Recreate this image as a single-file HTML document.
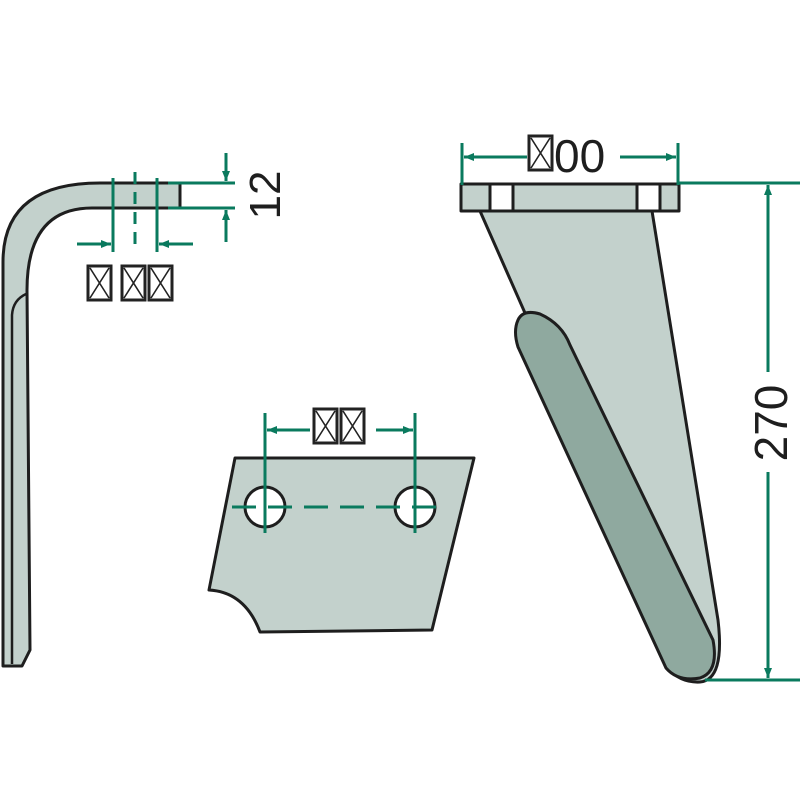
<!DOCTYPE html>
<html><head><meta charset="utf-8"><style>body{margin:0;background:#fff}svg{display:block}</style></head><body>
<svg width="800" height="800" viewBox="0 0 800 800" xmlns="http://www.w3.org/2000/svg">
<defs>
<marker id="a" markerWidth="10" markerHeight="8" refX="10" refY="4" orient="auto" markerUnits="userSpaceOnUse"><path d="M0,0 L10,4 L0,8z" fill="#0a7a5e"/></marker>
<g id="bx"><rect x="0" y="0" width="23" height="34" fill="none" stroke="#222" stroke-width="3"/><path d="M2,2 L21,32 M21,2 L2,32" stroke="#222" stroke-width="1.6"/></g>
</defs>
<g stroke="#1e1e1e" stroke-width="3" stroke-linejoin="round">
<path d="M3,666 L3,262 Q3,183 100,183 L180,183 L180,208 L92,208 Q27,208 27,290 L30,650 L22,666 Z" fill="#c3d1cc"/>
<path d="M12,664 L12,315 Q13,300 26,294" fill="none" stroke-width="2.5"/>
<path d="M235,458 L474,458 L432,630 L260,632 Q245,592 209,590 Z" fill="#c3d1cc"/>
<circle cx="265" cy="507" r="20" fill="#fff"/><circle cx="415" cy="507" r="20" fill="#fff"/>
<path d="M480,211 L652,211 L718,620 Q725,680 700,682 Q680,683 668,668 L525,313 Z" fill="#c3d1cc"/>
<path d="M518,320 Q523,309 540,314 Q562,324 570,345 L713,640 Q719,672 700,678 Q678,682 666,668 L518,347 Q513,331 518,320 Z" fill="#8fa99f"/>
<rect x="461" y="184" width="218" height="27" fill="#c3d1cc"/>
<rect x="490" y="184" width="23" height="27" fill="#fff"/><rect x="637" y="184" width="23" height="27" fill="#fff"/>
</g>
<g stroke="#0a7a5e" stroke-width="3" fill="none">
<line x1="168" y1="183" x2="235" y2="183"/><line x1="168" y1="208" x2="235" y2="208"/>
<line x1="226" y1="153" x2="226" y2="181" marker-end="url(#a)"/><line x1="226" y1="242" x2="226" y2="210" marker-end="url(#a)"/>
<line x1="113" y1="178" x2="113" y2="252"/><line x1="157" y1="178" x2="157" y2="252"/>
<line x1="135" y1="172" x2="135" y2="245" stroke-dasharray="12,8"/>
<line x1="77" y1="244" x2="111" y2="244" marker-end="url(#a)"/><line x1="193" y1="244" x2="159" y2="244" marker-end="url(#a)"/>
<line x1="265" y1="413" x2="265" y2="533"/><line x1="415" y1="413" x2="415" y2="533"/>
<line x1="310" y1="430" x2="267" y2="430" marker-end="url(#a)"/><line x1="376" y1="430" x2="413" y2="430" marker-end="url(#a)"/>
<line x1="232" y1="507" x2="448" y2="507" stroke-dasharray="24,12"/>
<line x1="462" y1="143" x2="462" y2="185"/><line x1="678" y1="143" x2="678" y2="185"/>
<line x1="527" y1="157" x2="464" y2="157" marker-end="url(#a)"/><line x1="620" y1="157" x2="676" y2="157" marker-end="url(#a)"/>
<line x1="679" y1="183" x2="800" y2="183"/><line x1="705" y1="680" x2="800" y2="680"/>
<line x1="768" y1="372" x2="768" y2="185" marker-end="url(#a)"/><line x1="768" y1="472" x2="768" y2="678" marker-end="url(#a)"/>
</g>
<use href="#bx" x="88" y="266"/><use href="#bx" x="122" y="266"/><use href="#bx" x="149" y="266"/>
<use href="#bx" x="314" y="409"/><use href="#bx" x="341" y="409"/>
<use href="#bx" x="529" y="136"/>
<text x="554" y="172" font-family="Liberation Sans, sans-serif" font-size="46" fill="#1e1e1e">00</text>
<text transform="translate(280,195) rotate(-90)" text-anchor="middle" font-family="Liberation Sans, sans-serif" font-size="44" fill="#1e1e1e">12</text>
<text transform="translate(787,423) rotate(-90)" text-anchor="middle" font-family="Liberation Sans, sans-serif" font-size="46" fill="#1e1e1e">270</text>
</svg>
</body></html>
